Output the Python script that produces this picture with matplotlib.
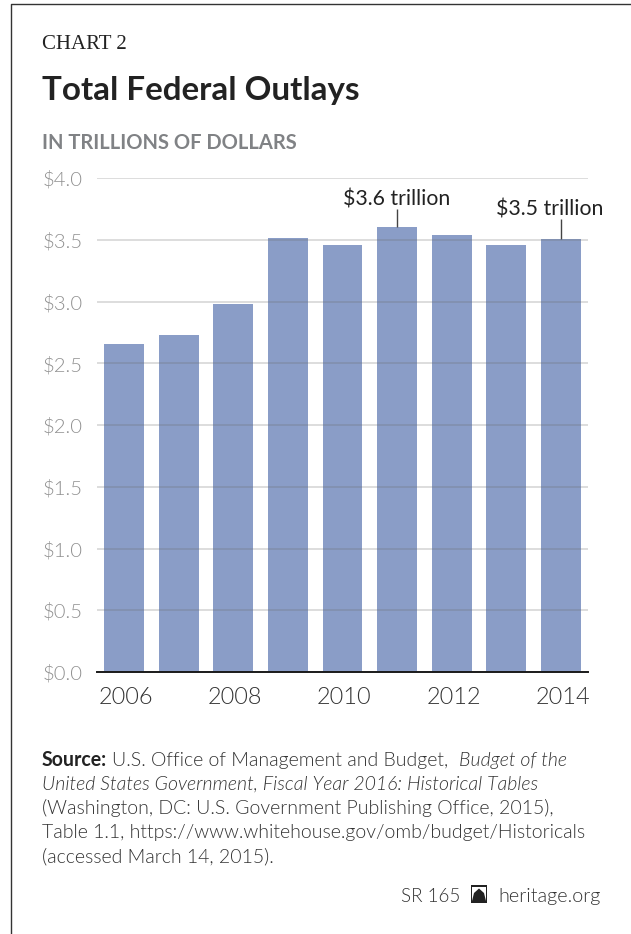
import matplotlib
matplotlib.use('Agg')
import matplotlib.pyplot as plt
from matplotlib.lines import Line2D
from matplotlib.patches import Polygon
from matplotlib.transforms import ScaledTranslation

plt.rcParams['font.family'] = ['Lato', 'DejaVu Sans']

years = [2006, 2007, 2008, 2009, 2010, 2011, 2012, 2013, 2014]
outlays = [2.655, 2.729, 2.983, 3.518, 3.457, 3.603, 3.537, 3.455, 3.506]
y_ticks = [0.0, 0.5, 1.0, 1.5, 2.0, 2.5, 3.0, 3.5, 4.0]
x_ticks = [2006, 2008, 2010, 2012, 2014]
callouts = [(2011, 3.603, '$3.6 trillion'), (2014, 3.506, '$3.5 trillion')]

W, H = 631, 934
fig = plt.figure(figsize=(W / 100, H / 100), dpi=100, facecolor='white')
thin = 300


def px(x, y):
    return x / W, 1 - y / H


def label(x, y, s, **kw):
    kw.setdefault('va', 'baseline')
    return fig.text(*px(x, y), s, **kw)


ax = fig.add_axes([97 / W, 1 - 672 / H, 491 / W, 494 / H])
ax.bar(years, outlays, width=0.73, color='#8a9dc7', zorder=2)
ax.set_xlim(2005.505, 2014.495)
ax.set_ylim(0, 4.0)
ax.set_yticks(y_ticks)
ax.set_yticklabels(['\\$%.1f' % v for v in y_ticks], fontsize=14.6, color='#909090', fontweight=thin)
ax.set_xticks(x_ticks)
ax.set_xticklabels([str(v) for v in x_ticks], fontsize=16.9, color='#333333', fontweight=thin)
ax.tick_params(axis='both', length=0)
ax.tick_params(axis='x', pad=11)
ax.tick_params(axis='y', pad=10)
# year labels sit slightly right of their bars
for t in ax.get_xticklabels():
    t.set_transform(t.get_transform() + ScaledTranslation(2 / 100, 0, fig.dpi_scale_trans))
for s in ['top', 'right', 'left']:
    ax.spines[s].set_visible(False)
ax.spines['bottom'].set_color('#1a1a1a')
ax.spines['bottom'].set_linewidth(1.4)
ax.spines['bottom'].set_zorder(5)
ax.set_axisbelow(False)
ax.grid(axis='y', color='#6a6a6a', alpha=0.25, lw=1.3, zorder=3)
ax.grid(axis='x', visible=False)

# leader lines and value callouts
ax.vlines([callouts[0][0]], callouts[0][1], callouts[0][1] + 0.15, color='#444444', lw=1, zorder=4)
ax.vlines([callouts[1][0]], callouts[1][1], callouts[1][1] + 0.165, color='#444444', lw=1, zorder=4)
label(397, 205, callouts[0][2].replace('$', '\\$'), fontsize=15.3, color='#222222', ha='center')
label(550, 216, callouts[1][2].replace('$', '\\$'), fontsize=15.3, color='#222222', ha='center')

# header
label(42, 49, 'CHART 2', fontsize=15, color='#222222', family='Liberation Serif')
label(42, 100, 'Total Federal Outlays', fontsize=23.9, color='#222222', fontweight='bold')
label(42, 149, 'IN TRILLIONS OF DOLLARS', fontsize=14.5, color='#808285', fontweight='bold')

# source note
src = '#333333'
fs = 14.05
label(42, 766, 'Source:', fontsize=fs, color='#222222', fontweight='bold')
label(112, 766, 'U.S. Office of Management and Budget,', fontsize=fs, color=src, fontweight=thin)
label(459, 766, 'Budget of the', fontsize=fs, color=src, style='italic', fontweight=thin)
label(42, 790, 'United States Government, Fiscal Year 2016: Historical Tables', fontsize=fs, color=src, style='italic', fontweight=thin)
label(42, 814, '(Washington, DC: U.S. Government Publishing Office, 2015),', fontsize=fs, color=src, fontweight=thin)
label(42, 838, 'Table 1.1, https://www.whitehouse.gov/omb/budget/Historicals', fontsize=fs, color=src, fontweight=thin)
label(42, 862, '(accessed March 14, 2015).', fontsize=fs, color=src, fontweight=thin)

# footer with bell mark
label(401, 902, 'SR 165', fontsize=13.5, color=src, fontweight=thin)
label(498, 902, 'heritage.org', fontsize=14.2, color=src, fontweight=thin)
fig.add_artist(Polygon([px(*p) for p in [(471, 885), (487, 885), (487, 903), (471, 903)]],
                       closed=True, facecolor='#222222', edgecolor='none', transform=fig.transFigure))
fig.add_artist(Polygon([px(*p) for p in [(472, 887), (486, 887), (486, 901), (484, 893), (479, 888.5), (474, 893), (472, 901)]],
                       closed=True, facecolor='white', edgecolor='none', transform=fig.transFigure))

# page frame
fig.add_artist(Line2D([11 / W, 11 / W, 1], [0, 1 - 4 / H, 1 - 4 / H], color='#333333', lw=1.0))

fig.savefig('out.png', dpi=100)
